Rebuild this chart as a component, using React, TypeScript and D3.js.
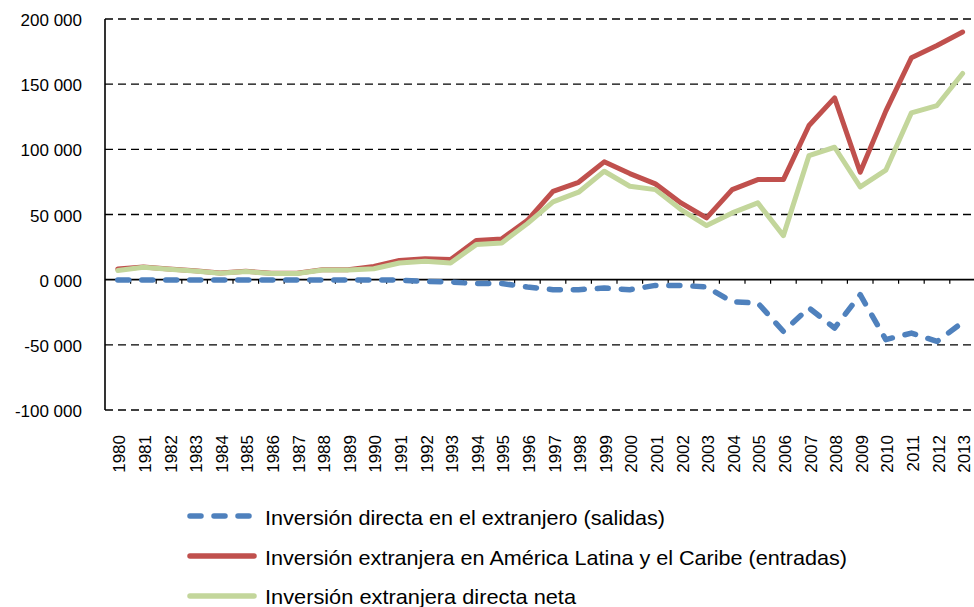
import React from "react";
import * as d3 from "d3";

const years: string[] = d3.range(1980, 2014).map(String);

const salidas: number[] = [
  -300, -300, -300, -300, -300, -300, -300, -300, -300, -300, -300, -300,
  -1300, -1800, -3000, -3000, -5600, -7700, -7700, -6400, -7700, -4400,
  -4400, -5600, -16900, -17900, -39700, -21700, -37100, -11500, -46000,
  -41000, -47400, -32800,
];

const entradas: number[] = [
  8200, 9800, 8200, 6900, 5100, 6400, 4900, 4900, 7700, 7700, 10200, 14800,
  16100, 15400, 30000, 31300, 45500, 67800, 74700, 90400, 81400, 73500,
  58900, 47400, 69100, 76800, 76800, 118300, 139500, 82400, 129300, 170300,
  179700, 190000,
];

const neta: number[] = [
  7000, 9500, 8000, 6600, 5000, 6200, 4700, 4700, 7400, 7400, 8400, 12800,
  14100, 12800, 26900, 28200, 43000, 59700, 67100, 83200, 71700, 69100,
  53800, 41500, 51200, 58900, 33800, 95200, 101600, 71200, 84000, 128000,
  133600, 158200,
];

const yTickValues: number[] = [200000, 150000, 100000, 50000, 0, -50000, -100000];
const yTickLabels: string[] = ["200 000", "150 000", "100 000", "50 000", "0 000", "-50 000", "-100 000"];

const seriesNames: string[] = [
  "Inversión directa en el extranjero (salidas)",
  "Inversión extranjera en América Latina y el Caribe (entradas)",
  "Inversión extranjera directa neta",
];
const seriesColors: string[] = ["#4F81BD", "#C0504D", "#C3D69B"];

const W = 974;
const H = 607;
const FONT = "'Liberation Sans', Arial, Helvetica, sans-serif";

export default function App() {
  const left = 105;
  const right = 975.4;
  const top = 19;
  const bottom = 410;

  const x = d3.scaleBand<string>().domain(years).range([left, right]).padding(0);
  const y = d3.scaleLinear().domain([-100000, 200000]).range([bottom, top]);
  const cx = (i: number) => (x(years[i]) as number) + x.bandwidth() / 2;

  const line = d3
    .line<number>()
    .x((_, i) => cx(i))
    .y((d) => y(d))
    .curve(d3.curveLinear);

  const y0 = y(0);
  const dash = "11,13";

  const legendRows = [
    { name: seriesNames[0], color: seriesColors[0], dashed: true, ly: 516, ty: 525, len: 400 },
    { name: seriesNames[1], color: seriesColors[1], dashed: false, ly: 556, ty: 564.5, len: 582 },
    { name: seriesNames[2], color: seriesColors[2], dashed: false, ly: 596, ty: 603.5, len: 311 },
  ];

  return (
    <svg
      width={W}
      height={H}
      style={{ position: "absolute", left: 0, top: 0, background: "#fff" }}
      fontFamily={FONT}
    >
      <rect x={0} y={0} width={W} height={H} fill="#fff" />
      {yTickValues.map((v) =>
        v === 0 ? null : (
          <line
            key={v}
            x1={left}
            x2={right}
            y1={y(v)}
            y2={y(v)}
            stroke="#000"
            strokeWidth={1.3}
            strokeDasharray="8,5"
          />
        )
      )}
      {yTickValues.map((v, i) => (
        <text
          key={"yl" + v}
          x={82}
          y={y(v) + 7}
          textAnchor="end"
          fontSize={17}
          fill="#000"
        >
          {yTickLabels[i]}
        </text>
      ))}
      <line x1={left} x2={left} y1={top} y2={bottom} stroke="#000" strokeWidth={1.6} />
      <line x1={left} x2={right} y1={y0} y2={y0} stroke="#000" strokeWidth={1.6} />
      {years.map((yr) => (
        <line
          key={"t" + yr}
          x1={(x(yr) as number) + x.bandwidth()}
          x2={(x(yr) as number) + x.bandwidth()}
          y1={y0}
          y2={y0 + 4}
          stroke="#000"
          strokeWidth={1.2}
        />
      ))}
      {years.map((yr, i) => (
        <text
          key={"xl" + yr}
          transform={`translate(${cx(i) + 7.5},435) rotate(-90)`}
          textAnchor="end"
          fontSize={17}
          fill="#000"
        >
          {yr}
        </text>
      ))}
      <path
        d={line(entradas) || ""}
        fill="none"
        stroke={seriesColors[1]}
        strokeWidth={5}
        strokeLinejoin="round"
        strokeLinecap="round"
      />
      <path
        d={line(neta) || ""}
        fill="none"
        stroke={seriesColors[2]}
        strokeWidth={5}
        strokeLinejoin="round"
        strokeLinecap="round"
      />
      <path
        d={line(salidas) || ""}
        fill="none"
        stroke={seriesColors[0]}
        strokeWidth={5.5}
        strokeLinejoin="round"
        strokeLinecap="round"
        strokeDasharray={dash}
      />
      {legendRows.map((r) => (
        <g key={r.name}>
          <line
            x1={190}
            x2={254}
            y1={r.ly}
            y2={r.ly}
            stroke={r.color}
            strokeWidth={5.5}
            strokeLinecap="round"
            strokeDasharray={r.dashed ? dash : undefined}
          />
          <text
            x={265}
            y={r.ty}
            fontSize={21}
            fill="#000"
            textLength={r.len}
            lengthAdjust="spacingAndGlyphs"
          >
            {r.name}
          </text>
        </g>
      ))}
    </svg>
  );
}
